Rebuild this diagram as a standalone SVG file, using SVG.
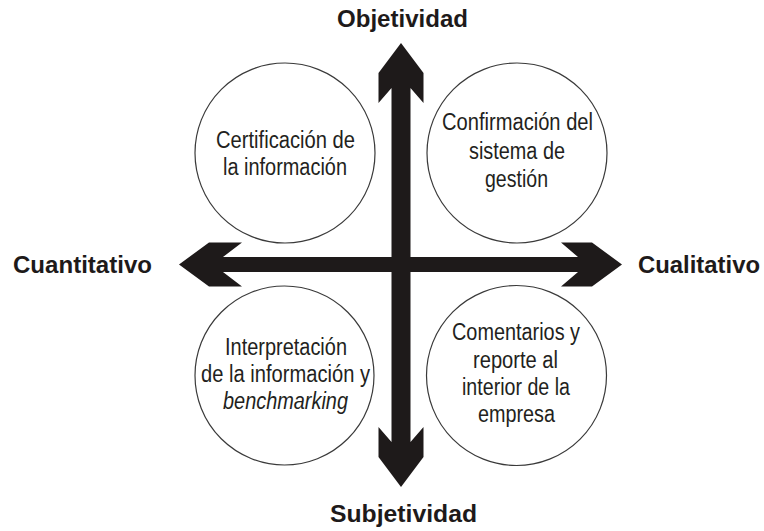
<svg xmlns="http://www.w3.org/2000/svg" width="764" height="531" viewBox="0 0 764 531">
<style>
.bg{fill:#ffffff}
.circ{fill:#ffffff;stroke:#3a3a3a;stroke-width:1.2}
.arrow{fill:#1e1a1a}
.lbl{font-family:"Liberation Sans",Arial,sans-serif;font-size:24px;font-weight:bold;fill:#1e1a1a;text-anchor:middle}
.txt{font-family:"Liberation Sans",Arial,sans-serif;font-size:23px;fill:#231f20;text-anchor:middle}
.it{font-style:italic}
</style>
<rect class="bg" x="0" y="0" width="764" height="531"/>
<g id="node-certificacion">
<circle class="circ" cx="285" cy="153" r="90"/>
<text class="txt" x="285.5" y="148" textLength="139" lengthAdjust="spacingAndGlyphs">Certificación de</text>
<text class="txt" x="285" y="175" textLength="124" lengthAdjust="spacingAndGlyphs">la información</text>
</g>
<g id="node-confirmacion">
<circle class="circ" cx="517" cy="153" r="90"/>
<text class="txt" x="517.5" y="130" textLength="151" lengthAdjust="spacingAndGlyphs">Confirmación del</text>
<text class="txt" x="517" y="158.5" textLength="96" lengthAdjust="spacingAndGlyphs">sistema de</text>
<text class="txt" x="516.5" y="187" textLength="63" lengthAdjust="spacingAndGlyphs">gestión</text>
</g>
<g id="node-interpretacion">
<circle class="circ" cx="284.5" cy="375.5" r="89.5"/>
<text class="txt" x="286" y="355" textLength="122" lengthAdjust="spacingAndGlyphs">Interpretación</text>
<text class="txt" x="285.5" y="382" textLength="169" lengthAdjust="spacingAndGlyphs">de la información y</text>
<text class="txt it" x="285.5" y="408.5" textLength="125" lengthAdjust="spacingAndGlyphs">benchmarking</text>
</g>
<g id="node-comentarios">
<circle class="circ" cx="516.5" cy="375.5" r="90"/>
<text class="txt" x="516" y="340" textLength="128" lengthAdjust="spacingAndGlyphs">Comentarios y</text>
<text class="txt" x="515.5" y="367.5" textLength="85" lengthAdjust="spacingAndGlyphs">reporte al</text>
<text class="txt" x="516" y="395" textLength="108" lengthAdjust="spacingAndGlyphs">interior de la</text>
<text class="txt" x="516.5" y="422" textLength="77" lengthAdjust="spacingAndGlyphs">empresa</text>
</g>
<g id="connectors">
<polygon id="axis-vertical" class="arrow" points="401,43 423.5,73 423.5,103 410.5,88 410.5,442 423.5,427 423.5,457 401,487 378.5,457 378.5,427 391.5,442 391.5,88 378.5,103 378.5,73"/>
<polygon id="axis-horizontal" class="arrow" points="179,264.5 209,242.5 242,242.5 223,257 578,257 561,242.5 592,242.5 622,264.5 592,286.5 561,286.5 578,272 223,272 242,286.5 209,286.5"/>
</g>
<g id="labels">
<text class="lbl" x="402.5" y="27" textLength="131" lengthAdjust="spacingAndGlyphs">Objetividad</text>
<text class="lbl" x="403.5" y="522" textLength="147" lengthAdjust="spacingAndGlyphs">Subjetividad</text>
<text class="lbl" x="82.5" y="273" textLength="139" lengthAdjust="spacingAndGlyphs">Cuantitativo</text>
<text class="lbl" x="699" y="273" textLength="122" lengthAdjust="spacingAndGlyphs">Cualitativo</text>
</g>
</svg>
